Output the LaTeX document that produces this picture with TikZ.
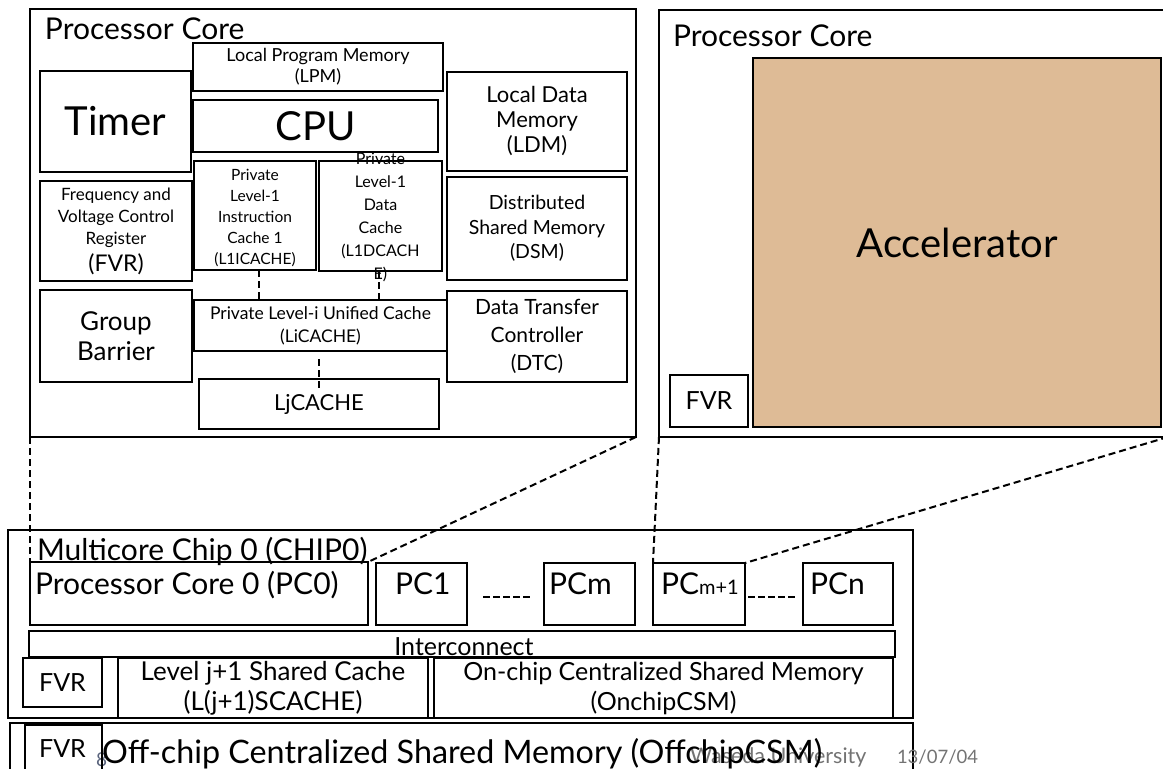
\documentclass[tikz,border=0pt]{standalone}
\usepackage{fontspec}
\setmainfont{Lato}
\newcommand\fsz[2]{\fontsize{#1}{#2}\selectfont}
\definecolor{accfill}{RGB}{222,187,150}
\definecolor{footgray}{RGB}{115,115,115}
\definecolor{pagenum}{RGB}{90,100,125}

\begin{document}
\begin{tikzpicture}[x=1pt,y=-1pt,
  blk/.style={draw, line width=2.8pt, inner sep=0pt, outer sep=0pt, align=center},
  sz/.style 2 args={minimum width=#1pt, minimum height=#2pt},
  zoomline/.style={dash pattern=on 7pt off 4pt, line width=2pt},
  linkdash/.style={dash pattern=on 7pt off 4pt, line width=2pt},
  sepdash/.style={dash pattern=on 7pt off 3pt, line width=2.8pt},
  txt/.style={inner sep=0pt, outer sep=0pt, align=center}]

\path[use as bounding box] (0,0) rectangle (1163,769);
\clip (0,0) rectangle (1163,769);

% ---------- detailed processor core ----------
\node[blk, sz={606}{428}] (coreL) at (333,223) {};
\node[txt, anchor=base west, font=\fsz{30}{34}] (coreLtitle) at (45,39) {Processor Core};
\node[blk, sz={250}{48}, font=\fsz{18}{21}] (lpm) at (318,67) {Local Program Memory\\(LPM)};
\node[blk, sz={245}{52}, font=\fsz{40}{44}] (cpu) at (315.5,126) {CPU};
\node[blk, sz={151}{101}, font=\fsz{40}{44}] (timer) at (115.5,121.5) {Timer};
\node[blk, sz={180}{99}, font=\fsz{22}{25}] (ldm) at (537,121.5) {Local Data\\Memory\\(LDM)};
\node[blk, sz={152}{100}, font=\fsz{17}{22}] (fvrL) at (116,231) {Frequency and\\Voltage Control\\Register\\[5pt]{\fsz{23}{26}(FVR)}};
\node[blk, sz={122}{109}] (l1i) at (255,215.5) {};
\node[txt, font=\fsz{15.5}{21}] (l1itext) at (255,218) {Private\\Level-1\\Instruction\\Cache 1\\(L1ICACHE)};
\node[blk, sz={123}{110}] (l1d) at (380.5,216) {};
\node[txt, font=\fsz{16}{23}] (l1dtext) at (380.5,217) {Private\\Level-1\\Data\\Cache\\(L1DCACH\\E)};
\node[blk, sz={180}{103}, font=\fsz{19.5}{24.5}] (dsm) at (537,228.5) {Distributed\\Shared Memory\\(DSM)};
\node[blk, sz={152}{92}, font=\fsz{26}{30}] (gb) at (116,336) {Group\\Barrier};
\node[blk, sz={253}{51}, font=\fsz{17.5}{23}] (li) at (320.5,325.5) {Private Level-i Unified Cache\\(LiCACHE)};
\node[blk, sz={180}{91}, font=\fsz{21}{28}] (dtc) at (537,336.5) {Data Transfer\\Controller\\(DTC)};
\node[blk, sz={240}{50}, font=\fsz{22}{26}] (lj) at (319,404) {LjCACHE};

\draw[linkdash] ([xshift=4pt]l1i.south) -- ([xshift=4pt]l1i.south |- li.north);
\draw[linkdash] ([xshift=-2pt]l1d.south) -- ([xshift=-2pt]l1d.south |- li.north);
\draw[linkdash] ([xshift=-1.5pt,yshift=-8pt]li.south) -- ([xshift=-1.5pt,yshift=-11pt]li.south |- lj.north);

% ---------- accelerator core ----------
\node[blk, sz={509}{427}] (coreR) at (913.5,223.5) {};
\node[txt, anchor=base west, font=\fsz{30}{34}] (coreRtitle) at (673,46) {Processor Core};
\node[blk, sz={408}{369}, fill=accfill, font=\fsz{40}{44}] (acc) at (957,242.5) {Accelerator};
\node[blk, sz={78}{52}, font=\fsz{25}{28}] (fvrR) at (709,401) {FVR};

% ---------- multicore chip ----------
\node[blk, sz={905}{188}] (chip) at (460.5,624) {};
\node[txt, anchor=base west, font=\fsz{30}{34}] (chiptitle) at (37,560) {Multicore Chip 0 (CHIP0)};
\node[blk, sz={338}{63}] (pc0) at (199,593.5) {};
\node[txt, anchor=base west, font=\fsz{30}{34}] (pc0text) at (35,594) {Processor Core 0 (PC0)};
\node[blk, sz={91}{62}] (pc1) at (421.5,594) {};
\node[txt, anchor=base west, font=\fsz{30}{34}] (pc1text) at (395,594) {PC1};
\node[blk, sz={91}{62}] (pcm) at (589.5,594) {};
\node[txt, anchor=base west, font=\fsz{30}{34}] (pcmtext) at (549,594) {PCm};
\node[blk, sz={92}{62}] (pcmm) at (699,594) {};
\node[txt, anchor=base west] (pcmmtext) at (661,594) {\fsz{30}{34}PC\fsz{20}{24}m+1};
\node[blk, sz={90}{62}] (pcn) at (848,594) {};
\node[txt, anchor=base west, font=\fsz{30}{34}] (pcntext) at (810,594) {PCn};

\draw[sepdash] ([xshift=16pt,yshift=-3pt]pc1.east) -- ([xshift=-12pt,yshift=-3pt]pcm.west);
\draw[sepdash] ([xshift=3pt,yshift=-3pt]pcmm.east) -- ([xshift=-5pt,yshift=-3pt]pcn.west);

\node[blk, sz={866}{26}] (ic) at (462,644) {};
\node[txt, anchor=base, font=\fsz{25}{28}] (ictext) at (464,655) {Interconnect};
\node[blk, sz={79}{49}, font=\fsz{25}{28}] (fvrC) at (62.5,682.5) {FVR};
\node[blk, sz={310}{60}, font=\fsz{26}{30}] (l2) at (273,688) {Level j+1 Shared Cache\\(L(j+1)SCACHE)};
\node[blk, sz={459}{60}, font=\fsz{25}{30}] (oncsm) at (663.5,688) {On-chip Centralized Shared Memory\\(OnchipCSM)};

% ---------- off-chip memory ----------
\node[txt, anchor=base west, font=\fsz{19}{22}, text=pagenum] (pageno) at (96,766) {8};
\node[blk, sz={903}{68}] (offcsm) at (461.5,757) {};
\node[blk, sz={77}{65}] (fvrO) at (63.5,757.5) {};
\node[txt, anchor=base, font=\fsz{25}{28}] (fvrOtext) at (62.5,757) {FVR};
\node[txt, anchor=base west, font=\fsz{21.5}{24}, text=footgray] (footer) at (690,763) {Waseda University};
\node[txt, anchor=base west, font=\fsz{18.5}{22}, text=footgray] (footdate) at (897,763) {13/07/04};
\node[txt, anchor=base west, font=\fsz{32.3}{36}] (offtext) at (102,763) {Off-chip Centralized Shared Memory (OffchipCSM)};

% ---------- zoom guides ----------
\draw[zoomline] (coreL.south west) -- (pc0.north west);
\draw[zoomline] (coreL.south east) -- (pc0.north east);
\draw[zoomline] (coreR.south west) -- (pcmm.north west);
\draw[zoomline] (coreR.south east) -- (pcmm.north east);
\end{tikzpicture}
\end{document}
